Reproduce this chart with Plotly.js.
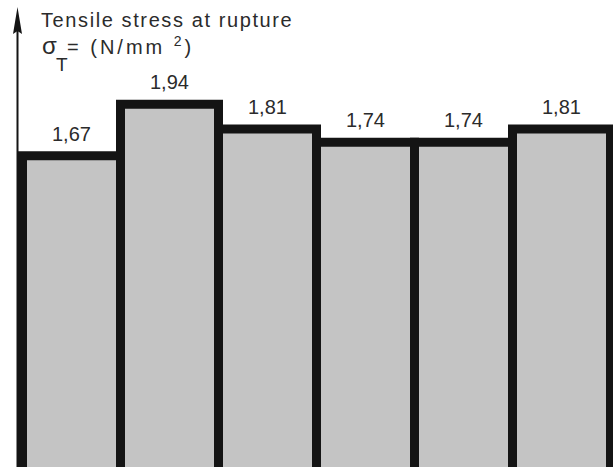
<!DOCTYPE html>
<html><head><meta charset="utf-8">
<script src="https://cdn.plot.ly/plotly-3.0.1.min.js"></script>
<style>html,body{margin:0;padding:0;background:#fff;} #chart{width:613px;height:467px;}</style>
</head><body><div id="chart"></div>
<script>
// ---- data ----
const categories = ['Sample 1', 'Sample 2', 'Sample 3', 'Sample 4', 'Sample 5', 'Sample 6'];
const values = [1.67, 1.94, 1.81, 1.74, 1.74, 1.81];
const valueLabels = values.map(v => v.toFixed(2).replace('.', ','));
const titleLine1 = 'Tensile stress at rupture';
const titleSymbol = 'σ';
const titleSub = 'T';
const titleUnit = '= (N/mm <sup>2</sup>)';

// ---- layout helpers (pixel -> paper) ----
const W = 613, H = 467;
const px = x => x / W;
const py = y => 1 - y / H;
const FONT = 'Liberation Sans, Arial, Helvetica, sans-serif';
const INK = '#2b2b2b';
const LS1 = 1.6, LS2 = 3;           // letter spacing of the two title lines (px)
const N1 = 25, N2 = 10;             // characters in the two title lines

const trace = {
  type: 'bar',
  x: categories,
  y: values,
  width: 1,
  marker: { color: '#c4c4c4', line: { color: '#141414', width: 9 } },
  hoverinfo: 'none'
};

const annotations = categories.map((c, i) => ({
  x: c, y: values[i], xref: 'x', yref: 'y',
  text: valueLabels[i], showarrow: false,
  yanchor: 'bottom', yshift: 9,
  font: { family: FONT, size: 20, color: INK }
}));

annotations.push(
  { xref: 'paper', yref: 'paper', x: px(39), y: py(20), xanchor: 'left', yanchor: 'middle',
    xshift: N1 * LS1 / 2,
    text: titleLine1, showarrow: false, font: { family: FONT, size: 20, color: INK } },
  { xref: 'paper', yref: 'paper', x: px(40), y: py(45), xanchor: 'left', yanchor: 'middle',
    text: titleSymbol, showarrow: false, font: { family: FONT, size: 24, color: INK } },
  { xref: 'paper', yref: 'paper', x: px(54), y: py(64), xanchor: 'left', yanchor: 'middle',
    text: titleSub, showarrow: false, font: { family: FONT, size: 19, color: INK } },
  { xref: 'paper', yref: 'paper', x: px(65), y: py(46), xanchor: 'left', yanchor: 'middle',
    xshift: N2 * LS2 / 2,
    text: titleUnit, showarrow: false, font: { family: FONT, size: 20, color: INK } }
);

const shapes = [
  { type: 'line', xref: 'paper', yref: 'paper', x0: px(17.5), x1: px(17.5), y0: 0, y1: py(28),
    line: { color: '#141414', width: 2 } },
  { type: 'path', xref: 'paper', yref: 'paper',
    path: `M ${px(17.5)},${py(7)} L ${px(13)},${py(34)} L ${px(17.5)},${py(31)} L ${px(22)},${py(34)} Z`,
    fillcolor: '#141414', line: { width: 0 } }
];

const layout = {
  width: W, height: H,
  margin: { l: 0, r: 0, t: 0, b: 0 },
  paper_bgcolor: '#ffffff', plot_bgcolor: '#ffffff',
  bargap: 0,
  showlegend: false,
  xaxis: { type: 'category', range: [-0.7296, 5.5255], showgrid: false, zeroline: false,
           showticklabels: false, ticks: '', showline: false, fixedrange: true },
  yaxis: { range: [0.0316, 2.489], showgrid: false, zeroline: false,
           showticklabels: false, ticks: '', showline: false, fixedrange: true },
  annotations: annotations,
  shapes: shapes
};

Plotly.newPlot('chart', [trace], layout, { displayModeBar: false, staticPlot: true }).then(() => {
  const n = categories.length;
  document.querySelectorAll('.annotation').forEach(g => {
    const idx = +g.getAttribute('data-index');
    if (idx === n) g.querySelectorAll('text').forEach(t => t.style.letterSpacing = LS1 + 'px');
    if (idx === n + 3) g.querySelectorAll('text').forEach(t => t.style.letterSpacing = LS2 + 'px');
  });
});
</script>
</body></html>
